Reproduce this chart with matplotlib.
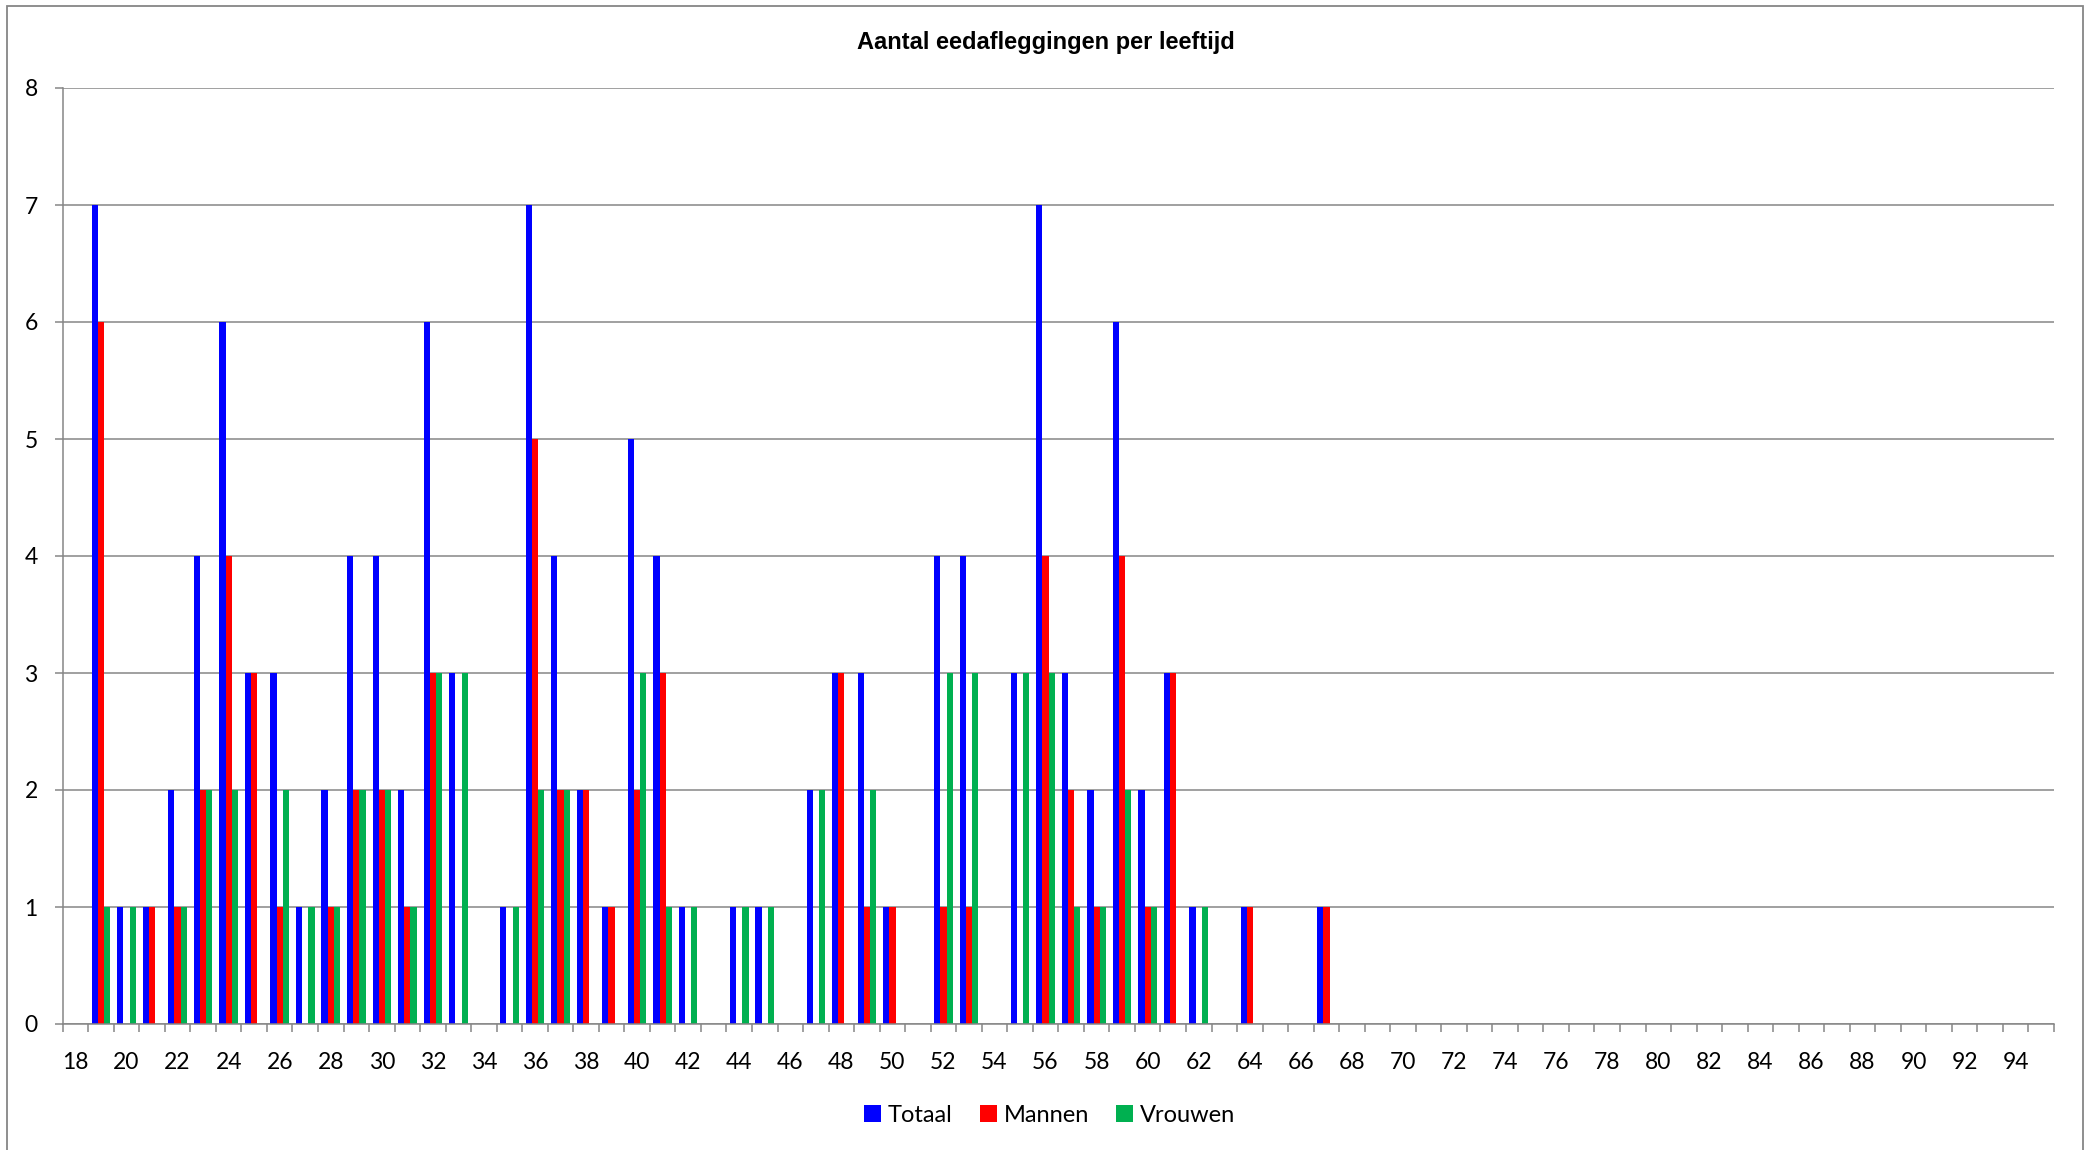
import matplotlib
matplotlib.use("Agg")
import matplotlib.pyplot as plt
from matplotlib.patches import Rectangle
from matplotlib.ticker import FixedLocator, NullFormatter
import numpy as np

plt.rcParams["font.family"] = ["Lato", "DejaVu Sans"]

# leeftijd 18 t/m 95
ages = list(range(18, 96))
totaal = [0, 7, 1, 1, 2, 4, 6, 3, 3, 1,
          2, 4, 4, 2, 6, 3, 0, 1, 7, 4,
          2, 1, 5, 4, 1, 0, 1, 1, 0, 2,
          3, 3, 1, 0, 4, 4, 0, 3, 7, 3,
          2, 6, 2, 3, 1, 0, 1, 0, 0, 1,
          0, 0, 0, 0, 0, 0, 0, 0, 0, 0,
          0, 0, 0, 0, 0, 0, 0, 0, 0, 0,
          0, 0, 0, 0, 0, 0, 0, 0]
mannen = [0, 6, 0, 1, 1, 2, 4, 3, 1, 0,
          1, 2, 2, 1, 3, 0, 0, 0, 5, 2,
          2, 1, 2, 3, 0, 0, 0, 0, 0, 0,
          3, 1, 1, 0, 1, 1, 0, 0, 4, 2,
          1, 4, 1, 3, 0, 0, 1, 0, 0, 1,
          0, 0, 0, 0, 0, 0, 0, 0, 0, 0,
          0, 0, 0, 0, 0, 0, 0, 0, 0, 0,
          0, 0, 0, 0, 0, 0, 0, 0]
vrouwen = [0, 1, 1, 0, 1, 2, 2, 0, 2, 1,
           1, 2, 2, 1, 3, 3, 0, 1, 2, 2,
           0, 0, 3, 1, 1, 0, 1, 1, 0, 2,
           0, 2, 0, 0, 3, 3, 0, 3, 3, 1,
           1, 2, 1, 0, 1, 0, 0, 0, 0, 0,
           0, 0, 0, 0, 0, 0, 0, 0, 0, 0,
           0, 0, 0, 0, 0, 0, 0, 0, 0, 0,
           0, 0, 0, 0, 0, 0, 0, 0]

W, H = 2094, 1150
fig = plt.figure(figsize=(W / 100, H / 100), dpi=100)
ax = fig.add_axes([62.7 / W, 1 - 1024 / H, (2054 - 62.7) / W, (1024 - 88) / H])

x = np.arange(len(ages))
bw = 0.243
grey = "#868686"
ax.bar(x - bw, totaal, bw, color="#0000FF", label="Totaal", zorder=2)
ax.bar(x, mannen, bw, color="#FF0000", label="Mannen", zorder=2)
ax.bar(x + bw, vrouwen, bw, color="#00B050", label="Vrouwen", zorder=2)

ax.set_xlim(-0.5, len(ages) - 0.5)
ax.set_ylim(0, 8)
ax.set_yticks(range(0, 9))
ax.yaxis.grid(True, color=grey, lw=1.1)
ax.set_axisbelow(True)

ax.set_xticks(x[::2])
ax.set_xticklabels([str(a) for a in ages[::2]])
ax.xaxis.set_minor_locator(FixedLocator(np.arange(-0.5, len(ages), 1.0)))
ax.xaxis.set_minor_formatter(NullFormatter())
ax.tick_params(axis="x", which="major", length=0, pad=20, labelsize=16.5)
ax.tick_params(axis="x", which="minor", length=6, width=1.1, color=grey, direction="out")
ax.tick_params(axis="y", length=6, width=1.1, color=grey, pad=12, labelsize=16.5)

for s in ["top", "right"]:
    ax.spines[s].set_visible(False)
for s in ["left", "bottom"]:
    ax.spines[s].set_color(grey)
    ax.spines[s].set_linewidth(1.1)

fig.text(0.4995, 1 - 42 / H, "Aantal eedafleggingen per leeftijd", ha="center", va="center",
         fontsize=17, fontweight="bold", family=["Liberation Sans", "DejaVu Sans"])

ax.legend(loc="center", bbox_to_anchor=(1049.5 / W, 1 - 1115 / H), bbox_transform=fig.transFigure,
          ncol=3, frameon=False, fontsize=17, handlelength=0.72, handleheight=0.72,
          handletextpad=0.3, columnspacing=1.15)

fig.patches.append(Rectangle((7 / W, -0.01), (2083 - 7) / W, 1.01 - 6 / H,
                             transform=fig.transFigure, fill=False, edgecolor=grey, lw=1.3))

fig.savefig("out.png", dpi=100)
